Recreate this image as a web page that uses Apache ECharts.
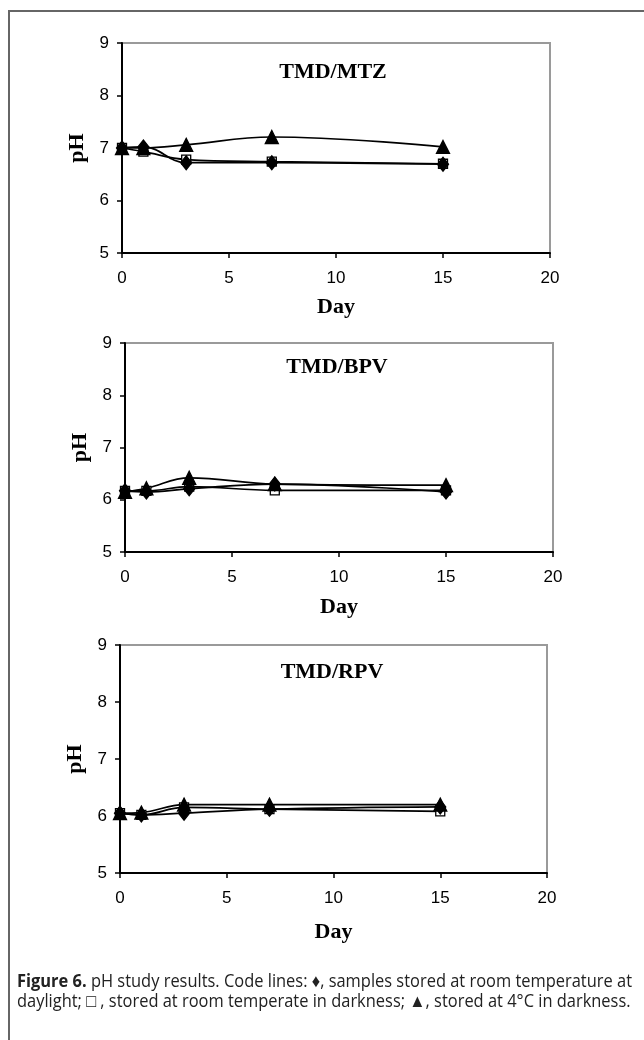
<!DOCTYPE html>
<html><head><meta charset="utf-8">
<script src="https://cdn.jsdelivr.net/npm/echarts@6/dist/echarts.min.js"></script>
<style>html,body{margin:0;padding:0;background:#fff}#c{width:644px;height:1040px}</style>
</head><body><div id="c"></div>
<script>
const days = [0, 1, 3, 7, 15];
const panelTitles = ['TMD/MTZ', 'TMD/BPV', 'TMD/RPV'];
const xTicks = [0, 5, 10, 15, 20];
const yTicks = [5, 6, 7, 8, 9];
const mtzDiamond = [7.0, 7.02, 6.72, 6.72, 6.69];
const mtzSquare = [7.0, 6.93, 6.78, 6.74, 6.70];
const mtzTriangle = [7.0, 7.0, 7.06, 7.21, 7.02];
const bpvDiamond = [6.17, 6.15, 6.21, 6.30, 6.15];
const bpvSquare = [6.17, 6.17, 6.25, 6.18, 6.18];
const bpvTriangle = [6.15, 6.22, 6.42, 6.30, 6.28];
const rpvDiamond = [6.05, 6.02, 6.05, 6.12, 6.16];
const rpvSquare = [6.05, 6.02, 6.15, 6.12, 6.08];
const rpvTriangle = [6.05, 6.06, 6.20, 6.20, 6.20];
const captionBold = 'Figure 6.';
const captionLine1 = ' pH study results. Code lines: \u2666, samples stored at room temperature at';
const captionLine2 = 'daylight; \u25A1 , stored at room temperate in darkness; \u25B2, stored at 4\u00B0C in darkness.';

const panels = [
  {d: mtzDiamond, s: mtzSquare, t: mtzTriangle},
  {d: bpvDiamond, s: bpvSquare, t: bpvTriangle},
  {d: rpvDiamond, s: rpvSquare, t: rpvTriangle}
];
const grids = [
  {left: 122, top: 43, width: 428, height: 210},
  {left: 125, top: 343, width: 428, height: 209},
  {left: 120, top: 645, width: 427, height: 228}
];
const nameGaps = [43, 44, 48];
const titlePos = [[333, 72], [337, 367], [332, 672]];

const tickFont = '"Liberation Sans", Arial, sans-serif';
const serif = '"Liberation Serif", "Times New Roman", serif';

const xAxes = [], yAxes = [], series = [], gridOpts = [], graphics = [];
grids.forEach((g, i) => {
  gridOpts.push(Object.assign({show: true, borderColor: '#9a9a9a', borderWidth: 2, containLabel: false}, g));
  xAxes.push({
    type: 'value', gridIndex: i, min: xTicks[0], max: xTicks[xTicks.length - 1], interval: 5,
    axisLine: {lineStyle: {color: '#000', width: 2}},
    axisTick: {show: true, length: 5, lineStyle: {color: '#000', width: 1.5}},
    splitLine: {show: false},
    axisLabel: {color: '#000', fontSize: 17, fontFamily: tickFont, margin: 17},
    name: 'Day', nameLocation: 'middle', nameGap: nameGaps[i],
    nameTextStyle: {fontFamily: serif, fontWeight: 'bold', fontSize: 22, color: '#000'}
  });
  yAxes.push({
    type: 'value', gridIndex: i, min: yTicks[0], max: yTicks[yTicks.length - 1], interval: 1,
    axisLine: {show: true, lineStyle: {color: '#000', width: 2}},
    axisTick: {show: true, length: 5, lineStyle: {color: '#000', width: 1.5}},
    splitLine: {show: false},
    axisLabel: {color: '#000', fontSize: 17, fontFamily: tickFont, margin: 13},
    name: 'pH', nameLocation: 'middle', nameGap: 20, nameRotate: 90,
    nameTextStyle: {fontFamily: serif, fontWeight: 'bold', fontSize: 22, color: '#000'}
  });
  const p = panels[i];
  const mk = (vals, symbol, size, fill) => ({
    type: 'line', xAxisIndex: i, yAxisIndex: i, smooth: 0.4,
    data: days.map((x, k) => [x, vals[k]]),
    symbol: symbol, symbolSize: size, showSymbol: true,
    lineStyle: {color: '#000', width: 1.7},
    itemStyle: {color: fill, borderColor: '#000', borderWidth: 1.3},
    animation: false, silent: true
  });
  series.push(mk(p.s, 'rect', 9, '#fff'));
  series.push(mk(p.t, 'triangle', 13, '#000'));
  series.push(mk(p.d, 'diamond', [11, 14], '#000'));
  graphics.push({
    type: 'text', x: titlePos[i][0], y: titlePos[i][1],
    style: {text: panelTitles[i], fontFamily: serif, fontWeight: 'bold', fontSize: 22, fill: '#000',
      textAlign: 'center', textVerticalAlign: 'middle'}
  });
});

// page frame
graphics.push({type: 'line', shape: {x1: 8, y1: 11, x2: 644, y2: 11}, style: {stroke: '#666', lineWidth: 2}});
graphics.push({type: 'line', shape: {x1: 9, y1: 10, x2: 9, y2: 1040}, style: {stroke: '#666', lineWidth: 2}});

// caption: condensed by horizontal scale so it spans the reference width
const capFont = '"Open Sans", "Liberation Sans", sans-serif';
const capSize = 18;
const mctx = document.createElement('canvas').getContext('2d');
mctx.font = 'bold ' + capSize + 'px ' + capFont;
let w1 = mctx.measureText(captionBold).width;
mctx.font = capSize + 'px ' + capFont;
w1 += mctx.measureText(captionLine1).width;
const capScale = 615 / w1;
graphics.push({
  type: 'text', x: 17, y: 982, scaleX: capScale,
  style: {
    text: '{b|' + captionBold + '}{r|' + captionLine1 + '}',
    textVerticalAlign: 'middle',
    rich: {
      b: {fontFamily: capFont, fontWeight: 'bold', fontSize: capSize, fill: '#222'},
      r: {fontFamily: capFont, fontSize: capSize, fill: '#222'}
    }
  }
});
graphics.push({
  type: 'text', x: 17, y: 1002, scaleX: capScale,
  style: {text: captionLine2, fontFamily: capFont, fontSize: capSize, fill: '#222', textVerticalAlign: 'middle'}
});

const chart = echarts.init(document.getElementById('c'), null, {renderer: 'canvas'});
chart.setOption({
  animation: false,
  backgroundColor: '#fff',
  grid: gridOpts,
  xAxis: xAxes,
  yAxis: yAxes,
  series: series,
  graphic: graphics
});
</script></body></html>
